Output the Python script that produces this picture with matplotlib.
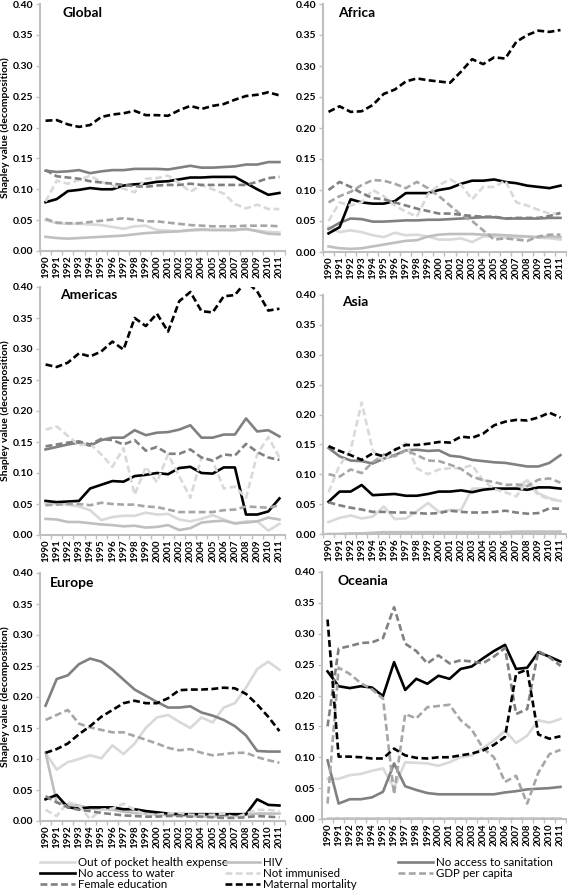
import matplotlib.pyplot as plt
from matplotlib.lines import Line2D

years = list(range(1990, 2012))
regions = ["Global", "Africa", "Americas", "Asia", "Europe", "Oceania"]
series = ["Out of pocket health expense", "HIV", "No access to sanitation",
          "No access to water", "Not immunised", "GDP per capita",
          "Female education", "Maternal mortality"]

# Global
glo_oop = [0.050, 0.045, 0.044, 0.044, 0.043, 0.042, 0.039, 0.036, 0.040, 0.041, 0.034,
           0.033, 0.032, 0.033, 0.034, 0.034, 0.034, 0.034, 0.035, 0.033, 0.031, 0.030]
glo_hiv = [0.023, 0.021, 0.020, 0.021, 0.022, 0.023, 0.024, 0.025, 0.027, 0.029, 0.030,
           0.031, 0.032, 0.034, 0.035, 0.034, 0.034, 0.034, 0.036, 0.032, 0.028, 0.027]
glo_san = [0.130, 0.128, 0.129, 0.131, 0.126, 0.129, 0.131, 0.131, 0.133, 0.133, 0.133,
           0.132, 0.135, 0.138, 0.135, 0.135, 0.136, 0.137, 0.140, 0.140, 0.144, 0.144]
glo_wat = [0.079, 0.084, 0.097, 0.099, 0.102, 0.100, 0.100, 0.106, 0.108, 0.109, 0.112,
           0.113, 0.116, 0.119, 0.119, 0.120, 0.120, 0.120, 0.110, 0.100, 0.091, 0.094]
glo_imm = [0.080, 0.114, 0.109, 0.115, 0.122, 0.112, 0.106, 0.101, 0.095, 0.117, 0.118,
           0.122, 0.110, 0.096, 0.107, 0.100, 0.093, 0.076, 0.069, 0.075, 0.068, 0.068]
glo_gdp = [0.052, 0.046, 0.045, 0.045, 0.047, 0.049, 0.051, 0.053, 0.051, 0.048, 0.048,
           0.046, 0.044, 0.042, 0.041, 0.040, 0.040, 0.040, 0.041, 0.041, 0.041, 0.040]
glo_fem = [0.131, 0.121, 0.119, 0.117, 0.113, 0.111, 0.109, 0.107, 0.105, 0.104, 0.106,
           0.107, 0.107, 0.109, 0.107, 0.107, 0.107, 0.107, 0.107, 0.112, 0.118, 0.120]
glo_mat = [0.211, 0.212, 0.205, 0.201, 0.204, 0.217, 0.221, 0.223, 0.227, 0.220, 0.220,
           0.219, 0.228, 0.235, 0.230, 0.235, 0.238, 0.245, 0.251, 0.253, 0.257, 0.252]

# Africa
afr_oop = [0.040, 0.032, 0.035, 0.032, 0.027, 0.024, 0.031, 0.027, 0.028, 0.025, 0.020,
           0.020, 0.022, 0.016, 0.025, 0.025, 0.023, 0.023, 0.025, 0.023, 0.022, 0.020]
afr_hiv = [0.009, 0.006, 0.005, 0.006, 0.009, 0.012, 0.015, 0.018, 0.019, 0.025, 0.028,
           0.029, 0.029, 0.029, 0.028, 0.028, 0.027, 0.026, 0.025, 0.024, 0.025, 0.024]
afr_san = [0.037, 0.047, 0.054, 0.053, 0.049, 0.049, 0.050, 0.051, 0.051, 0.052, 0.052,
           0.053, 0.054, 0.055, 0.056, 0.056, 0.054, 0.054, 0.054, 0.054, 0.055, 0.055]
afr_wat = [0.030, 0.040, 0.085, 0.080, 0.078, 0.078, 0.082, 0.095, 0.095, 0.095, 0.100,
           0.103, 0.110, 0.115, 0.115, 0.117, 0.113, 0.111, 0.107, 0.105, 0.103, 0.107]
afr_imm = [0.050, 0.080, 0.075, 0.080, 0.100, 0.090, 0.075, 0.065, 0.057, 0.093, 0.108,
           0.117, 0.108, 0.085, 0.105, 0.105, 0.115, 0.080, 0.075, 0.068, 0.062, 0.062]
afr_gdp = [0.080, 0.090, 0.097, 0.108, 0.116, 0.115, 0.110, 0.103, 0.113, 0.103, 0.090,
           0.075, 0.060, 0.050, 0.035, 0.020, 0.022, 0.020, 0.018, 0.025, 0.028, 0.028]
afr_fem = [0.100, 0.113, 0.105, 0.095, 0.087, 0.085, 0.080, 0.075, 0.070, 0.066, 0.062,
           0.062, 0.060, 0.058, 0.057, 0.057, 0.054, 0.055, 0.055, 0.055, 0.058, 0.063]
afr_mat = [0.226, 0.235, 0.226, 0.227, 0.237, 0.255, 0.262, 0.275, 0.280, 0.277, 0.275,
           0.273, 0.291, 0.311, 0.303, 0.314, 0.312, 0.339, 0.350, 0.357, 0.355, 0.358]

# Americas
ame_oop = [0.050, 0.050, 0.049, 0.046, 0.040, 0.024, 0.029, 0.031, 0.031, 0.036, 0.033,
           0.034, 0.025, 0.022, 0.026, 0.032, 0.025, 0.018, 0.022, 0.022, 0.007, 0.018]
ame_hiv = [0.026, 0.025, 0.021, 0.021, 0.019, 0.017, 0.016, 0.014, 0.015, 0.012, 0.013,
           0.016, 0.008, 0.011, 0.020, 0.022, 0.023, 0.019, 0.020, 0.022, 0.028, 0.025]
ame_san = [0.138, 0.142, 0.146, 0.149, 0.144, 0.153, 0.157, 0.157, 0.169, 0.161, 0.165,
           0.166, 0.170, 0.177, 0.157, 0.157, 0.162, 0.162, 0.188, 0.167, 0.169, 0.159]
ame_wat = [0.055, 0.053, 0.054, 0.055, 0.075, 0.081, 0.087, 0.086, 0.095, 0.097, 0.100,
           0.098, 0.108, 0.110, 0.100, 0.099, 0.109, 0.109, 0.033, 0.033, 0.038, 0.059]
ame_imm = [0.170, 0.175, 0.160, 0.145, 0.147, 0.130, 0.110, 0.140, 0.065, 0.110, 0.085,
           0.130, 0.095, 0.060, 0.125, 0.120, 0.075, 0.078, 0.060, 0.130, 0.158, 0.125]
ame_gdp = [0.048, 0.049, 0.050, 0.050, 0.048, 0.052, 0.050, 0.049, 0.049, 0.046, 0.045,
           0.041, 0.037, 0.037, 0.037, 0.037, 0.040, 0.041, 0.046, 0.045, 0.044, 0.048]
ame_fem = [0.143, 0.146, 0.149, 0.151, 0.146, 0.155, 0.153, 0.146, 0.153, 0.136, 0.142,
           0.131, 0.131, 0.138, 0.125, 0.120, 0.130, 0.128, 0.147, 0.134, 0.125, 0.121]
ame_mat = [0.275, 0.271, 0.278, 0.293, 0.288, 0.296, 0.312, 0.299, 0.350, 0.337, 0.357,
           0.328, 0.377, 0.392, 0.361, 0.359, 0.385, 0.387, 0.409, 0.393, 0.362, 0.365]

# Asia
asi_oop = [0.020, 0.027, 0.031, 0.026, 0.029, 0.046, 0.025, 0.026, 0.038, 0.052, 0.037,
           0.040, 0.040, 0.076, 0.076, 0.076, 0.075, 0.078, 0.090, 0.068, 0.060, 0.055]
asi_hiv = [0.000, 0.000, 0.001, 0.001, 0.002, 0.003, 0.003, 0.003, 0.003, 0.003, 0.003,
           0.003, 0.003, 0.003, 0.003, 0.003, 0.003, 0.004, 0.004, 0.004, 0.004, 0.004]
asi_san = [0.144, 0.130, 0.123, 0.122, 0.118, 0.126, 0.132, 0.140, 0.141, 0.139, 0.140,
           0.131, 0.129, 0.124, 0.122, 0.120, 0.119, 0.116, 0.113, 0.113, 0.119, 0.132]
asi_wat = [0.054, 0.071, 0.071, 0.082, 0.065, 0.066, 0.067, 0.064, 0.064, 0.067, 0.071,
           0.071, 0.073, 0.070, 0.074, 0.076, 0.076, 0.076, 0.074, 0.078, 0.078, 0.076]
asi_imm = [0.070, 0.115, 0.140, 0.220, 0.140, 0.122, 0.140, 0.152, 0.110, 0.100, 0.108,
           0.110, 0.110, 0.115, 0.090, 0.075, 0.070, 0.063, 0.088, 0.065, 0.058, 0.055]
asi_gdp = [0.100, 0.096, 0.108, 0.102, 0.120, 0.133, 0.130, 0.140, 0.132, 0.123, 0.122,
           0.116, 0.109, 0.096, 0.090, 0.087, 0.082, 0.083, 0.080, 0.091, 0.093, 0.086]
asi_fem = [0.053, 0.048, 0.044, 0.041, 0.037, 0.037, 0.036, 0.036, 0.035, 0.034, 0.035,
           0.039, 0.037, 0.036, 0.036, 0.037, 0.039, 0.036, 0.034, 0.035, 0.043, 0.042]
asi_mat = [0.147, 0.139, 0.132, 0.124, 0.135, 0.130, 0.141, 0.149, 0.149, 0.151, 0.154,
           0.153, 0.163, 0.161, 0.168, 0.182, 0.188, 0.191, 0.190, 0.195, 0.203, 0.195]

# Europe
eur_oop = [0.110, 0.083, 0.095, 0.100, 0.106, 0.101, 0.122, 0.108, 0.125, 0.150, 0.167,
           0.171, 0.160, 0.150, 0.167, 0.159, 0.183, 0.190, 0.215, 0.245, 0.257, 0.244]
eur_hiv = [0.110, 0.030, 0.027, 0.025, 0.020, 0.020, 0.018, 0.015, 0.013, 0.012, 0.010,
           0.010, 0.009, 0.008, 0.008, 0.007, 0.008, 0.008, 0.010, 0.012, 0.012, 0.012]
eur_san = [0.186, 0.229, 0.235, 0.253, 0.262, 0.257, 0.244, 0.228, 0.212, 0.202, 0.192,
           0.183, 0.183, 0.185, 0.175, 0.170, 0.163, 0.153, 0.138, 0.113, 0.112, 0.112]
eur_wat = [0.035, 0.042, 0.022, 0.020, 0.022, 0.022, 0.022, 0.019, 0.019, 0.016, 0.014,
           0.012, 0.011, 0.011, 0.011, 0.011, 0.011, 0.011, 0.011, 0.035, 0.026, 0.025]
eur_imm = [0.018, 0.008, 0.030, 0.025, 0.003, 0.018, 0.020, 0.028, 0.018, 0.010, 0.010,
           0.012, 0.013, 0.010, 0.010, 0.010, 0.012, 0.005, 0.012, 0.018, 0.018, 0.016]
eur_gdp = [0.163, 0.171, 0.179, 0.157, 0.151, 0.147, 0.143, 0.143, 0.137, 0.131, 0.125,
           0.118, 0.114, 0.116, 0.110, 0.106, 0.108, 0.110, 0.110, 0.103, 0.098, 0.094]
eur_fem = [0.040, 0.030, 0.022, 0.018, 0.016, 0.013, 0.011, 0.009, 0.008, 0.007, 0.007,
           0.008, 0.008, 0.007, 0.007, 0.006, 0.005, 0.005, 0.006, 0.008, 0.007, 0.006]
eur_mat = [0.110, 0.116, 0.125, 0.140, 0.153, 0.168, 0.179, 0.190, 0.194, 0.190, 0.190,
           0.198, 0.211, 0.212, 0.212, 0.213, 0.215, 0.214, 0.205, 0.188, 0.168, 0.145]

# Oceania
oce_oop = [0.065, 0.065, 0.071, 0.073, 0.078, 0.082, 0.050, 0.092, 0.091, 0.090, 0.086,
           0.092, 0.100, 0.103, 0.115, 0.127, 0.143, 0.123, 0.135, 0.160, 0.156, 0.162]
oce_hiv = [0.001, 0.001, 0.001, 0.001, 0.001, 0.001, 0.001, 0.001, 0.001, 0.001, 0.001,
           0.001, 0.001, 0.001, 0.001, 0.001, 0.001, 0.001, 0.001, 0.001, 0.001, 0.001]
oce_san = [0.095, 0.025, 0.032, 0.032, 0.035, 0.044, 0.090, 0.053, 0.047, 0.042, 0.040,
           0.040, 0.040, 0.040, 0.040, 0.040, 0.043, 0.045, 0.048, 0.049, 0.050, 0.052]
oce_wat = [0.239, 0.215, 0.212, 0.215, 0.213, 0.199, 0.254, 0.209, 0.227, 0.219, 0.232,
           0.227, 0.243, 0.247, 0.260, 0.272, 0.282, 0.243, 0.245, 0.270, 0.263, 0.255]
oce_imm = [0.002, 0.002, 0.002, 0.002, 0.002, 0.002, 0.002, 0.002, 0.002, 0.002, 0.002,
           0.002, 0.002, 0.002, 0.002, 0.002, 0.002, 0.002, 0.002, 0.002, 0.002, 0.002]
oce_gdp = [0.025, 0.245, 0.235, 0.220, 0.210, 0.195, 0.040, 0.170, 0.163, 0.181, 0.183,
           0.185, 0.160, 0.145, 0.115, 0.100, 0.060, 0.070, 0.025, 0.075, 0.105, 0.112]
oce_fem = [0.150, 0.276, 0.280, 0.285, 0.286, 0.293, 0.343, 0.284, 0.272, 0.252, 0.265,
           0.252, 0.257, 0.255, 0.252, 0.263, 0.277, 0.170, 0.178, 0.272, 0.262, 0.248]
oce_mat = [0.323, 0.101, 0.101, 0.100, 0.098, 0.098, 0.114, 0.103, 0.099, 0.098, 0.100,
           0.100, 0.103, 0.106, 0.111, 0.120, 0.133, 0.235, 0.242, 0.137, 0.130, 0.134]

data = {
    "Global": [glo_oop, glo_hiv, glo_san, glo_wat, glo_imm, glo_gdp, glo_fem, glo_mat],
    "Africa": [afr_oop, afr_hiv, afr_san, afr_wat, afr_imm, afr_gdp, afr_fem, afr_mat],
    "Americas": [ame_oop, ame_hiv, ame_san, ame_wat, ame_imm, ame_gdp, ame_fem, ame_mat],
    "Asia": [asi_oop, asi_hiv, asi_san, asi_wat, asi_imm, asi_gdp, asi_fem, asi_mat],
    "Europe": [eur_oop, eur_hiv, eur_san, eur_wat, eur_imm, eur_gdp, eur_fem, eur_mat],
    "Oceania": [oce_oop, oce_hiv, oce_san, oce_wat, oce_imm, oce_gdp, oce_fem, oce_mat],
}

colors = ["#d9d9d9", "#bfbfbf", "#808080", "#000000",
          "#d9d9d9", "#a6a6a6", "#808080", "#000000"]
dashed = [False, False, False, False, True, True, True, True]

plt.rcParams['font.family'] = ['Lato', 'DejaVu Sans']

# axes boxes in pixels: left, top(0.40), bottom(0.00), width
W, H = 567, 893
boxes = {
    "Global": (40, 4, 251, 245),
    "Africa": (323, 4, 252, 243),
    "Americas": (40, 287, 535, 245),
    "Asia": (323, 295, 534, 243),
    "Europe": (40, 573, 821, 245),
    "Oceania": (322, 572, 819, 244),
}
title_pos = {"Global": (0.09, 0.963), "Africa": (0.06, 0.963), "Americas": (0.08, 0.968),
             "Asia": (0.08, 0.97), "Europe": (0.04, 0.96), "Oceania": (0.065, 0.963)}

fig = plt.figure(figsize=(W / 100, H / 100), dpi=100)
spine_c = "#bfbfbf"

for reg in regions:
    l, t, b, w = boxes[reg]
    ax = fig.add_axes([l / W, 1 - b / H, w / W, (b - t) / H])
    for i, vals in enumerate(data[reg]):
        if dashed[i]:
            ax.plot(years, vals, color=colors[i], lw=1.9, dashes=(2.6, 1.3))
        else:
            ax.plot(years, vals, color=colors[i], lw=1.9)
    ax.set_xlim(1989.5, 2011.5)
    ax.set_ylim(0, 0.40)
    ax.set_yticks([0.0, 0.05, 0.10, 0.15, 0.20, 0.25, 0.30, 0.35, 0.40])
    ax.set_yticklabels(["%.2f" % v for v in ax.get_yticks()], fontsize=7.5,
                       fontweight='bold')
    ax.set_xticks(years)
    ax.set_xticklabels([str(y) for y in years], rotation=90, fontsize=7,
                       fontweight='bold')
    ax.set_xticks([y - 0.5 for y in years] + [2011.5], minor=True)
    ax.tick_params(axis='x', which='major', length=0, pad=3)
    ax.tick_params(axis='x', which='minor', length=3, color=spine_c, width=1)
    ax.tick_params(axis='y', length=3, color=spine_c, width=1, pad=2)
    for s in ["top", "right"]:
        ax.spines[s].set_visible(False)
    for s in ["left", "bottom"]:
        ax.spines[s].set_color(spine_c)
        ax.spines[s].set_linewidth(1.5)
    ax.text(title_pos[reg][0], title_pos[reg][1], reg, transform=ax.transAxes,
            fontsize=10, fontweight='bold', va='center', ha='left')
    if reg in ("Global", "Americas", "Europe"):
        ax.set_ylabel("Shapley value (decomposition)", fontsize=7.5, fontweight='bold',
                      labelpad=2)

handles = []
for i in range(8):
    handles.append(Line2D([], [], color=colors[i], lw=1.9,
                          dashes=(2.6, 1.3) if dashed[i] else (None, None)))

# three legend columns, filled row by row like the original
cols = [[0, 3, 6], [1, 4, 7], [2, 5]]
col_x = [40, 225, 398]
for idx, cx in zip(cols, col_x):
    fig.legend([handles[i] for i in idx], [series[i] for i in idx],
               loc='upper left', bbox_to_anchor=(cx / W, 1 - 857 / H),
               frameon=False, fontsize=8.3, handlelength=3.0, handletextpad=0.3,
               labelspacing=0.0, borderaxespad=0, borderpad=0)

fig.savefig("out.png", dpi=100)
